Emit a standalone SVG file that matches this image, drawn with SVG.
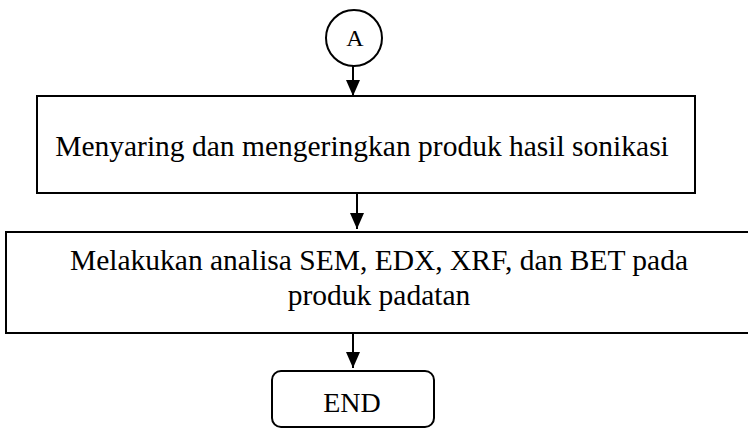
<svg xmlns="http://www.w3.org/2000/svg" width="748" height="428" viewBox="0 0 748 428">
<style>
.box{fill:#fff;stroke:#000;stroke-width:2}
.t{font-family:"Liberation Serif","Times New Roman",serif;font-size:29.5px;fill:#000;text-anchor:middle}
.c{stroke:#000;stroke-width:2;fill:none}
</style>
<defs>
<marker id="ah" viewBox="0 0 16 14" refX="16" refY="7" markerWidth="16" markerHeight="14" markerUnits="userSpaceOnUse" orient="auto">
<path d="M0,0 L16,7 L0,14 Z" fill="#000"/>
</marker>
</defs>
<rect width="748" height="428" fill="#fff"/>
<g id="nodeA">
<circle cx="354" cy="38" r="28" class="box"/>
<text x="355" y="46" class="t" style="font-size:24px">A</text>
</g>
<g id="node1">
<rect x="37" y="96" width="658" height="97" class="box"/>
<text x="362" y="156" class="t">Menyaring dan mengeringkan produk hasil sonikasi</text>
</g>
<g id="node2">
<rect x="6" y="232" width="750" height="101" class="box"/>
<text x="379" y="270" class="t">Melakukan analisa SEM, EDX, XRF, dan BET pada</text>
<text x="379" y="305" class="t">produk padatan</text>
</g>
<g id="nodeEnd">
<rect x="272" y="371" width="162" height="56" rx="9" class="box"/>
<text x="352" y="412" class="t" style="font-size:28px">END</text>
</g>
<g id="connectors">
<line x1="353" y1="66" x2="353" y2="96" class="c" marker-end="url(#ah)"/>
<line x1="357" y1="193" x2="357" y2="229" class="c" marker-end="url(#ah)"/>
<line x1="353" y1="333" x2="353" y2="368" class="c" marker-end="url(#ah)"/>
</g>
</svg>
